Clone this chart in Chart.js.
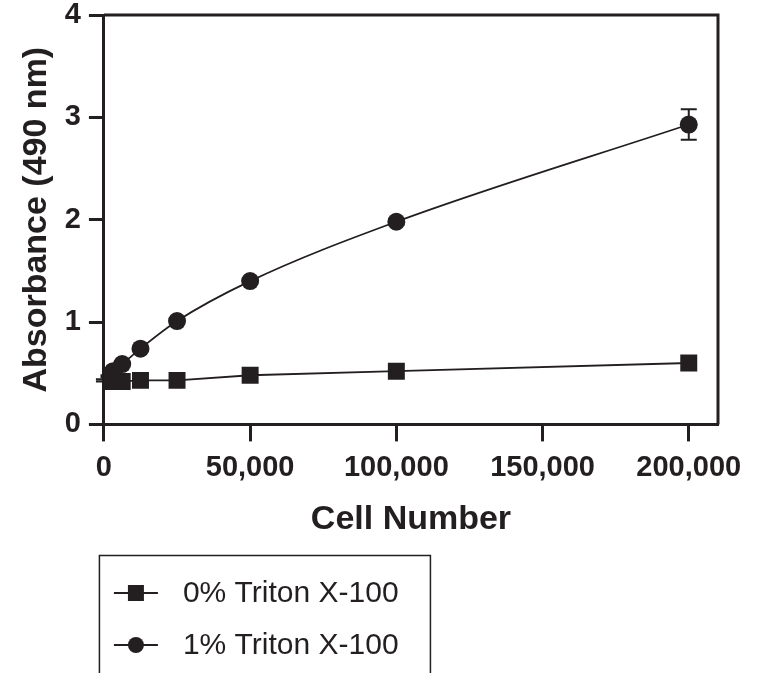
<!DOCTYPE html>
<html>
<head>
<meta charset="utf-8">
<script src="https://cdn.jsdelivr.net/npm/chart.js@4/dist/chart.umd.min.js"></script>
<style>
  html, body { margin: 0; padding: 0; background: #fff; }
  canvas { display: block; }
</style>
</head>
<body>
<canvas id="container" width="766" height="673"></canvas>
<script>
let ctx = document.getElementById('container').getContext('2d');

// data
let cellNumbers = [0, 1563, 3125, 6250, 12500, 25000, 50000, 100000, 200000];
let noTriton = [0.42, 0.42, 0.42, 0.42, 0.43, 0.43, 0.48, 0.52, 0.60];
let triton = [0.43, 0.47, 0.52, 0.59, 0.74, 1.01, 1.40, 1.98, 2.93];
let tritonSD = [0.01, 0.01, 0.01, 0.01, 0.01, 0.02, 0.02, 0.03, 0.15];
let labels = ['0% Triton X-100', '1% Triton X-100'];
let xTicks = [0, 50000, 100000, 150000, 200000];
let yTicks = [0, 1, 2, 3, 4];

let ink = '#231f20';

function pts(ys) {
  return cellNumbers.map((x, i) => ({ x: x, y: ys[i] }));
}

// error bars, right frame line and the boxed legend
let extras = {
  id: 'extras',
  beforeDatasetsDraw(chart) {
    let c = chart.ctx, xs = chart.scales.x, ys = chart.scales.y;
    c.save();
    c.strokeStyle = ink;
    c.lineWidth = 2;
    cellNumbers.forEach((x, i) => {
      let px = xs.getPixelForValue(x);
      let top = ys.getPixelForValue(triton[i] + tritonSD[i]);
      let bot = ys.getPixelForValue(triton[i] - tritonSD[i]);
      c.beginPath();
      c.moveTo(px, top); c.lineTo(px, bot);
      c.moveTo(px - 8, top); c.lineTo(px + 8, top);
      c.moveTo(px - 8, bot); c.lineTo(px + 8, bot);
      c.stroke();
    });
    c.restore();
  },
  afterDraw(chart) {
    let c = chart.ctx, a = chart.chartArea;
    c.save();
    c.strokeStyle = ink;
    c.lineWidth = 3;
    c.beginPath();
    c.moveTo(a.left, a.top);
    c.lineTo(a.right, a.top);
    c.lineTo(a.right, a.bottom);
    c.stroke();

    // legend box
    let bx = a.left - 5, by = 555;
    c.lineWidth = 1.5;
    c.strokeRect(bx + 0.5, by + 0.5, 331, 200);
    c.font = '30px "Liberation Sans", Arial, sans-serif';
    c.textBaseline = 'middle';
    c.fillStyle = ink;
    labels.forEach((lab, i) => {
      let y = 593 + i * 52;
      c.lineWidth = 2;
      c.beginPath();
      c.moveTo(bx + 15, y); c.lineTo(bx + 59, y);
      c.stroke();
      c.beginPath();
      if (i === 0) {
        c.rect(bx + 37 - 8, y - 8, 16, 16);
      } else {
        c.arc(bx + 37, y, 8, 0, Math.PI * 2);
      }
      c.fill();
      c.fillText(lab, bx + 84, y + 1);
    });
    c.restore();
  }
};

let myChart = new Chart(ctx, {
  type: 'line',
  data: {
    datasets: [{
      label: labels[0],
      data: pts(noTriton),
      borderColor: ink,
      backgroundColor: ink,
      borderWidth: 1.8,
      pointStyle: 'rect',
      pointRadius: 12,
      pointBorderWidth: 0,
      tension: 0
    }, {
      label: labels[1],
      data: pts(triton),
      borderColor: ink,
      backgroundColor: ink,
      borderWidth: 1.8,
      pointStyle: 'circle',
      pointRadius: 9,
      pointBorderWidth: 0,
      cubicInterpolationMode: 'monotone'
    }]
  },
  options: {
    responsive: false,
    animation: false,
    layout: {
      padding: { left: 16, right: 48, top: 15, bottom: 133 }
    },
    plugins: {
      legend: { display: false },
      tooltip: { enabled: false }
    },
    scales: {
      x: {
        type: 'linear',
        min: 0,
        max: 210000,
        afterBuildTicks: (scale) => { scale.ticks = xTicks.map(v => ({ value: v })); },
        border: { width: 3, color: ink },
        grid: { drawOnChartArea: false, tickLength: 17, tickWidth: 3, tickColor: ink },
        ticks: {
          color: ink,
          padding: 9,
          maxRotation: 0,
          font: { family: '"Liberation Sans", Arial, sans-serif', size: 29, weight: 'bold' },
          callback: (v) => v.toLocaleString('en-US')
        },
        title: {
          display: true,
          text: 'Cell Number',
          color: ink,
          padding: { top: 5, bottom: 0 },
          font: { family: '"Liberation Sans", Arial, sans-serif', size: 34, weight: 'bold' }
        }
      },
      y: {
        min: 0,
        max: 4,
        afterBuildTicks: (scale) => { scale.ticks = yTicks.map(v => ({ value: v })); },
        border: { width: 3, color: ink },
        grid: { drawOnChartArea: false, tickLength: 15, tickWidth: 3, tickColor: ink },
        ticks: {
          color: ink,
          padding: 8,
          font: { family: '"Liberation Sans", Arial, sans-serif', size: 29, weight: 'bold', lineHeight: 0.4 }
        },
        title: {
          display: true,
          text: 'Absorbance (490 nm)',
          color: ink,
          padding: { top: 0, bottom: 0 },
          font: { family: '"Liberation Sans", Arial, sans-serif', size: 34, weight: 'bold' }
        }
      }
    }
  },
  plugins: [extras]
});
</script>
</body>
</html>
